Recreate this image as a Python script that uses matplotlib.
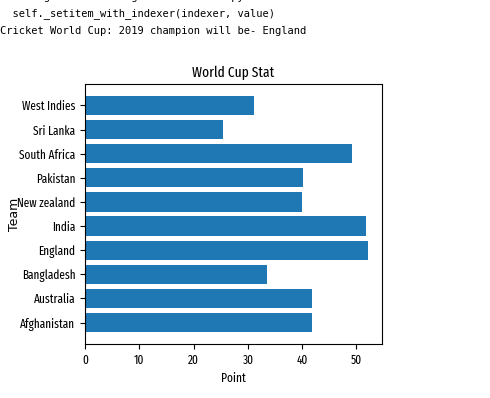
import matplotlib
matplotlib.use("Agg")
import matplotlib.pyplot as plt

teams = ["Afghanistan", "Australia", "Bangladesh", "England", "India",
         "New zealand", "Pakistan", "South Africa", "Sri Lanka", "West Indies"]
points = [41.8, 41.9, 33.6, 52.1, 51.8, 40.0, 40.2, 49.2, 25.5, 31.2]

header_lines = [
    "indexing.html#indexing-view-versus-copy",
    "  self._setitem_with_indexer(indexer, value)",
    "Cricket World Cup: 2019 champion will be- England",
]

fam = ["Fira Sans Extra Condensed", "DejaVu Sans"]

fig = plt.figure(figsize=(4.9, 3.98), dpi=100)
ax = fig.add_axes([85/490, 1 - 344/398, 297/490, 260/398])
ax.barh(teams, points, color="#1f77b4")
ax.set_title("World Cup Stat", fontsize=10.5, family=fam, fontweight="normal", pad=5)
ax.set_xlabel("Point", fontsize=9, family=fam)
ax.set_ylabel("Team", fontsize=9)
ax.yaxis.set_label_coords(-0.215, 0.5)
ax.tick_params(labelsize=8.8)
for lab in ax.get_xticklabels() + ax.get_yticklabels():
    lab.set_family(fam)
    lab.set_fontweight("normal")

ys = [-3, 14, 31]
for y, t in zip(ys, header_lines):
    fig.text(0.0, 1 - y/398, t, family="DejaVu Sans Mono", fontsize=7.45,
             va="center", ha="left")

fig.savefig("out.png", dpi=100)
